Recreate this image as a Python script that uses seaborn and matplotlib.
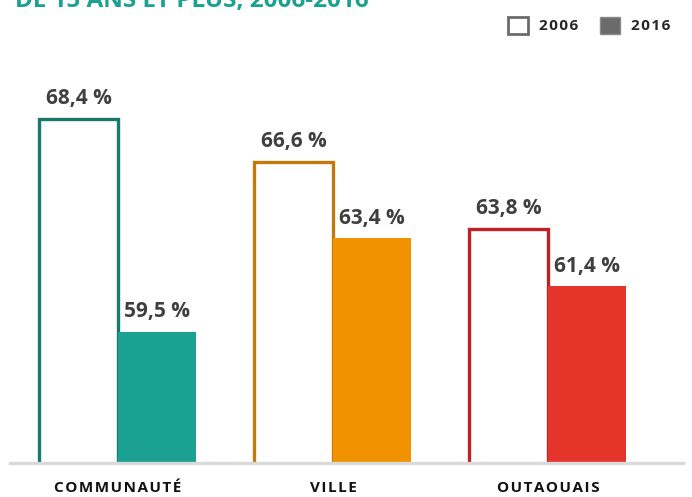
import pandas as pd
import matplotlib.pyplot as plt
import seaborn as sns
from matplotlib.patches import Patch

# Données
categories = ['COMMUNAUTÉ', 'VILLE', 'OUTAOUAIS']
annees = ['2006', '2016']
valeurs_2006 = [68.4, 66.6, 63.8]
valeurs_2016 = [59.5, 63.4, 61.4]

titre = 'DE 15 ANS ET PLUS, 2006-2016'

# Couleurs
contour = ['#177a6c', '#c27a0e', '#bf2226']
remplissage = ['#1ba192', '#f19300', '#e5352b']
gris_texte = '#3f3f3f'

df = pd.DataFrame({
    'categorie': categories * 2,
    'annee': [annees[0]] * 3 + [annees[1]] * 3,
    'valeur': valeurs_2006 + valeurs_2016,
})

sns.set_theme(style='white')
plt.rcParams['font.family'] = ['Open Sans', 'DejaVu Sans']

fig = plt.figure(figsize=(6.92, 4.97), dpi=100)
W, H = 692, 497
ax = fig.add_axes([10 / W, 34 / H, 673 / W, (463 - 60) / H])

sns.barplot(data=df, x='categorie', y='valeur', hue='annee', order=categories,
            hue_order=annees, width=0.73, legend=False, ax=ax)

# style des barres
for i, bar in enumerate(ax.containers[0]):
    bar.set_facecolor('white')
    bar.set_edgecolor(contour[i])
    bar.set_linewidth(2.4)
for i, bar in enumerate(ax.containers[1]):
    bar.set_facecolor(remplissage[i])
    bar.set_edgecolor('none')

for container in ax.containers:
    ax.bar_label(container,
                 labels=[f'{b.get_height():.1f} %'.replace('.', ',') for b in container],
                 padding=7, fontsize=15, fontweight='bold', color=gris_texte)

ax.set_ylim(54.0, 70.87)
ax.set_xlim(-0.502, 2.628)
ax.set_xlabel('')
ax.set_ylabel('')
ax.set_yticks([])
ax.set_xticks(range(len(categories)))
ax.set_xticklabels(['\u200a'.join(c) for c in categories], fontsize=11,
                   fontweight='bold', color='#111111')
ax.tick_params(axis='x', length=0, pad=13)

sns.despine(ax=ax, left=True)
ax.spines['bottom'].set_color('#d9d9d9')
ax.spines['bottom'].set_linewidth(2.4)
ax.spines['bottom'].set_zorder(5)

# légende
handles = [Patch(facecolor='white', edgecolor='#6b6b6b', linewidth=2),
           Patch(facecolor='#6b6b6b', edgecolor='#8a8a8a', linewidth=1)]
leg = fig.legend(handles, ['\u200a'.join(a) for a in annees], ncol=2, frameon=False,
                 loc='upper right', bbox_to_anchor=(684 / W, 1 - 3 / H),
                 handlelength=1.35, handleheight=1.35, handletextpad=0.7,
                 columnspacing=1.4, prop={'weight': 'bold', 'size': 11})

# titre coupé en haut
fig.text(15 / W, 1 - 7 / H, titre, color='#1ba192', fontsize=17.5,
         fontweight='bold', va='baseline', ha='left')

fig.savefig('out.png', dpi=100)
